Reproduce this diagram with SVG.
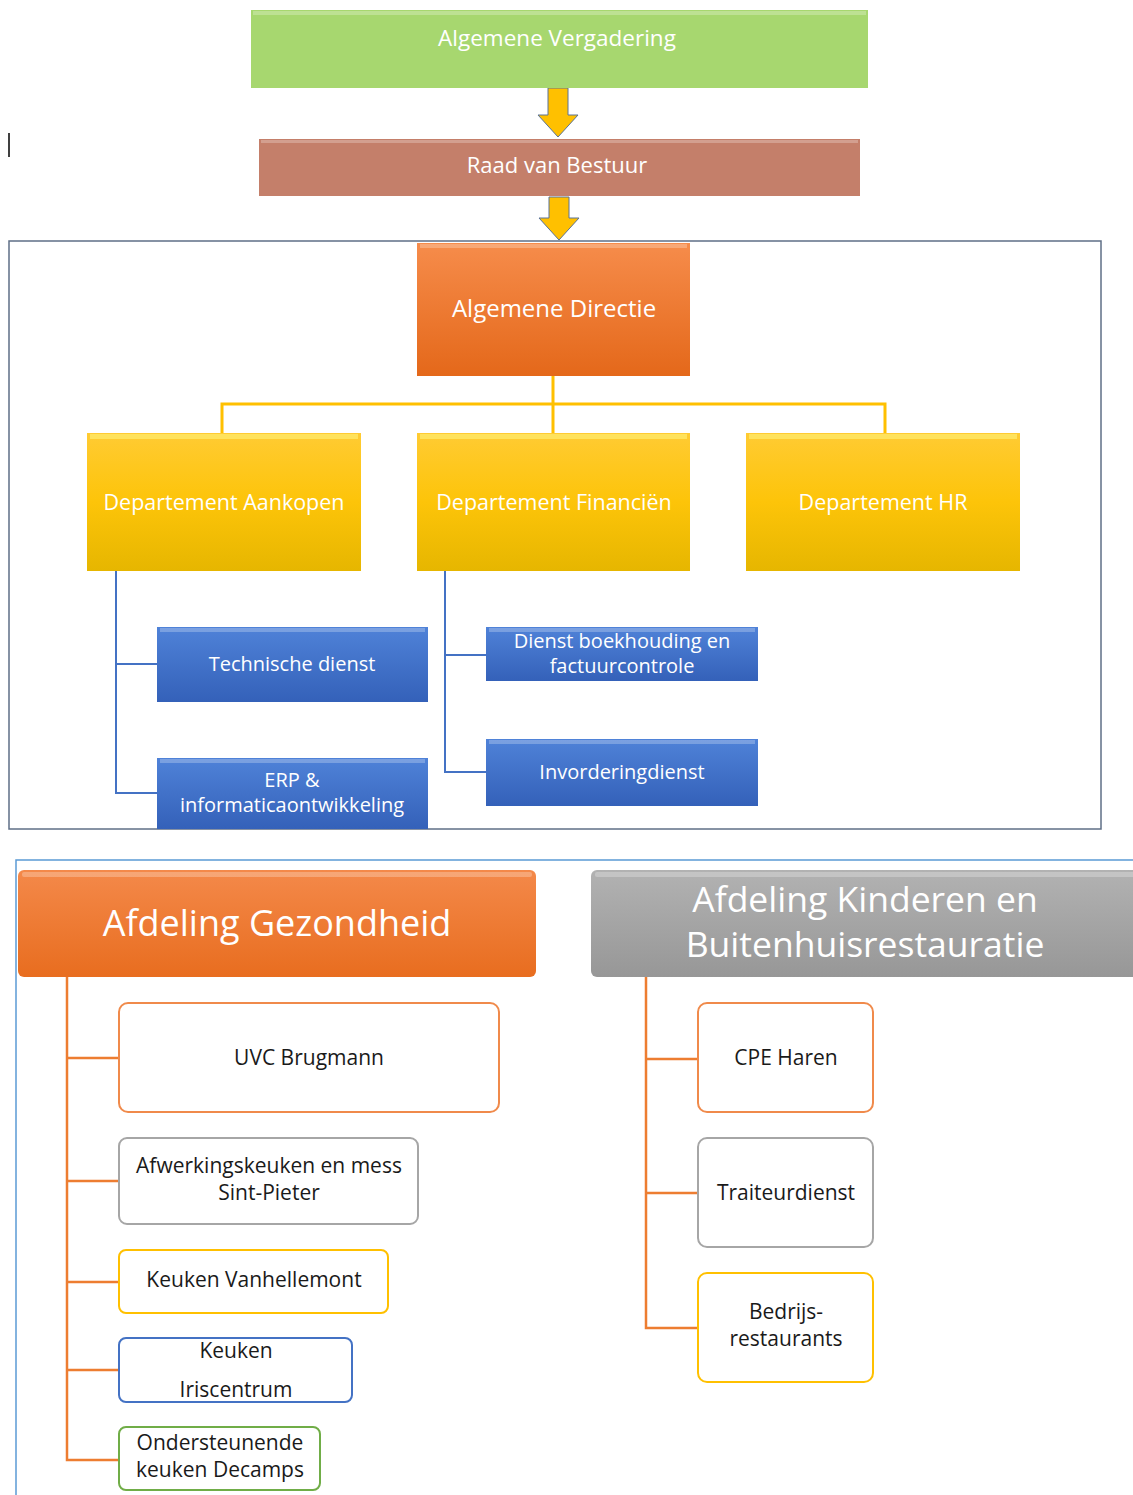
<svg xmlns="http://www.w3.org/2000/svg" width="1133" height="1495" viewBox="0 0 1133 1495">
<defs>
<linearGradient id="gOr" x1="0" y1="0" x2="0" y2="1"><stop offset="0" stop-color="#f68c4b"/><stop offset="1" stop-color="#e4681a"/></linearGradient>
<linearGradient id="gYe" x1="0" y1="0" x2="0" y2="1"><stop offset="0" stop-color="#ffcb33"/><stop offset="0.5" stop-color="#fdc409"/><stop offset="1" stop-color="#e6b600"/></linearGradient>
<linearGradient id="gBl" x1="0" y1="0" x2="0" y2="1"><stop offset="0" stop-color="#4f82d8"/><stop offset="1" stop-color="#3461b9"/></linearGradient>
<linearGradient id="gGr" x1="0" y1="0" x2="0" y2="1"><stop offset="0" stop-color="#b2b2b2"/><stop offset="1" stop-color="#979797"/></linearGradient>
<linearGradient id="gOr2" x1="0" y1="0" x2="0" y2="1"><stop offset="0" stop-color="#f4894a"/><stop offset="1" stop-color="#e86d1f"/></linearGradient>
</defs>
<style>
.wt{font-family:"Open Sans","Liberation Sans",sans-serif;fill:#ffffff;text-anchor:middle}
.bt{font-family:"Open Sans","Liberation Sans",sans-serif;fill:#1a1a1a;text-anchor:middle;font-size:21px}
.arrow{fill:#ffc000;stroke:#5a7396;stroke-width:1}
.yl{stroke:#ffc000;stroke-width:3;fill:none}
.bl{stroke:#4472c4;stroke-width:2;fill:none}
.ol{stroke:#ed7d31;stroke-width:2.5;fill:none}
.hl{fill:#ffffff;opacity:0.25}
.child{fill:#ffffff;stroke-width:2}
</style>
<rect width="1133" height="1495" fill="#ffffff"/>
<line x1="9" y1="133" x2="9" y2="157" stroke="#000000" stroke-width="1.5"/>
<rect x="9" y="241" width="1092" height="588" fill="none" stroke="#5f6f86" stroke-width="1.5"/>
<path d="M16 1495 V860 H1133" fill="none" stroke="#5b9bd5" stroke-width="1.5"/>

<g id="connectors">
<polygon class="arrow" points="548,88 568,88 568,115 578,115 558,137 538,115 548,115"/>
<polygon class="arrow" points="549,197 569,197 569,218 579,218 559,240 539,218 549,218"/>
<path class="yl" d="M553 376 V433 M222 433 V404 H885 V433"/>
<path class="bl" d="M116 571 V793 H157 M116 664 H157"/>
<path class="bl" d="M445 571 V772 H486 M445 655 H486"/>
<path class="ol" d="M67 977 V1460 H119 M67 1058 H119 M67 1181 H119 M67 1282 H119 M67 1370 H119"/>
<path class="ol" d="M646 977 V1328 H698 M646 1059 H698 M646 1193 H698"/>
</g>

<g id="algemene-vergadering">
<rect x="251" y="10" width="617" height="78" fill="#a7d76f"/>
<rect x="253" y="11" width="613" height="4" class="hl"/>
<text class="wt" x="557" y="46" font-size="22.5">Algemene Vergadering</text>
</g>
<g id="raad-van-bestuur">
<rect x="259" y="139" width="601" height="57" fill="#c47f6a"/>
<rect x="261" y="140" width="597" height="3" class="hl"/>
<text class="wt" x="557" y="173" font-size="22">Raad van Bestuur</text>
</g>
<g id="algemene-directie">
<rect x="417" y="243" width="273" height="133" fill="url(#gOr)"/>
<rect x="420" y="244" width="267" height="4" class="hl"/>
<text class="wt" x="554" y="317" font-size="24">Algemene Directie</text>
</g>
<g id="dept-aankopen">
<rect x="87" y="433" width="274" height="138" fill="url(#gYe)"/>
<rect x="90" y="434" width="268" height="5" fill="#fff27a" opacity="0.6"/>
<text class="wt" x="224" y="510" font-size="21.5">Departement Aankopen</text>
</g>
<g id="dept-financien">
<rect x="417" y="433" width="273" height="138" fill="url(#gYe)"/>
<rect x="420" y="434" width="267" height="5" fill="#fff27a" opacity="0.6"/>
<text class="wt" x="554" y="510" font-size="21.5">Departement Financiën</text>
</g>
<g id="dept-hr">
<rect x="746" y="433" width="274" height="138" fill="url(#gYe)"/>
<rect x="749" y="434" width="268" height="5" fill="#fff27a" opacity="0.6"/>
<text class="wt" x="883" y="510" font-size="21.5">Departement HR</text>
</g>
<g id="technische-dienst">
<rect x="157" y="627" width="271" height="75" fill="url(#gBl)"/>
<rect x="160" y="628" width="265" height="4" class="hl"/>
<text class="wt" x="292" y="671" font-size="20">Technische dienst</text>
</g>
<g id="erp">
<rect x="157" y="758" width="271" height="71" fill="url(#gBl)"/>
<rect x="160" y="759" width="265" height="4" class="hl"/>
<text class="wt" x="292" y="787" font-size="20">ERP &amp;</text>
<text class="wt" x="292" y="812" font-size="20">informaticaontwikkeling</text>
</g>
<g id="dienst-boekhouding">
<rect x="486" y="627" width="272" height="54" fill="url(#gBl)"/>
<rect x="489" y="628" width="266" height="4" class="hl"/>
<text class="wt" x="622" y="648" font-size="20">Dienst boekhouding en</text>
<text class="wt" x="622" y="673" font-size="20">factuurcontrole</text>
</g>
<g id="invorderingdienst">
<rect x="486" y="739" width="272" height="67" fill="url(#gBl)"/>
<rect x="489" y="740" width="266" height="4" class="hl"/>
<text class="wt" x="622" y="779" font-size="20">Invorderingdienst</text>
</g>

<g id="afdeling-gezondheid">
<rect x="18" y="870" width="518" height="107" rx="6" fill="url(#gOr2)"/>
<rect x="22" y="872" width="510" height="5" rx="2" class="hl"/>
<text class="wt" x="277" y="936" font-size="36">Afdeling Gezondheid</text>
</g>
<g id="afdeling-kinderen">
<rect x="591" y="870" width="548" height="107" rx="6" fill="url(#gGr)"/>
<rect x="595" y="872" width="540" height="5" rx="2" class="hl"/>
<text class="wt" x="865" y="912" font-size="35.5">Afdeling Kinderen en</text>
<text class="wt" x="865" y="957" font-size="35.5">Buitenhuisrestauratie</text>
</g>

<g id="uvc-brugmann">
<rect class="child" x="119" y="1003" width="380" height="109" rx="9" stroke="#f08a4b"/>
<text class="bt" x="309" y="1065">UVC Brugmann</text>
</g>
<g id="afwerkingskeuken">
<rect class="child" x="119" y="1138" width="299" height="86" rx="8" stroke="#a6a6a6"/>
<text class="bt" x="269" y="1173">Afwerkingskeuken en mess</text>
<text class="bt" x="269" y="1200">Sint-Pieter</text>
</g>
<g id="keuken-vanhellemont">
<rect class="child" x="119" y="1250" width="269" height="63" rx="7" stroke="#ffc000"/>
<text class="bt" x="254" y="1287">Keuken Vanhellemont</text>
</g>
<g id="keuken-iriscentrum">
<rect class="child" x="119" y="1338" width="233" height="64" rx="7" stroke="#4472c4"/>
<text class="bt" x="236" y="1358">Keuken</text>
<text class="bt" x="236" y="1397">Iriscentrum</text>
</g>
<g id="ondersteunende-keuken">
<rect class="child" x="119" y="1427" width="201" height="63" rx="7" stroke="#70ad47"/>
<text class="bt" x="220" y="1450">Ondersteunende</text>
<text class="bt" x="220" y="1477">keuken Decamps</text>
</g>
<g id="cpe-haren">
<rect class="child" x="698" y="1003" width="175" height="109" rx="9" stroke="#f08a4b"/>
<text class="bt" x="786" y="1065">CPE Haren</text>
</g>
<g id="traiteurdienst">
<rect class="child" x="698" y="1138" width="175" height="109" rx="9" stroke="#a6a6a6"/>
<text class="bt" x="786" y="1200">Traiteurdienst</text>
</g>
<g id="bedrijfsrestaurants">
<rect class="child" x="698" y="1273" width="175" height="109" rx="9" stroke="#ffc000"/>
<text class="bt" x="786" y="1319">Bedrijs-</text>
<text class="bt" x="786" y="1346">restaurants</text>
</g>
</svg>
